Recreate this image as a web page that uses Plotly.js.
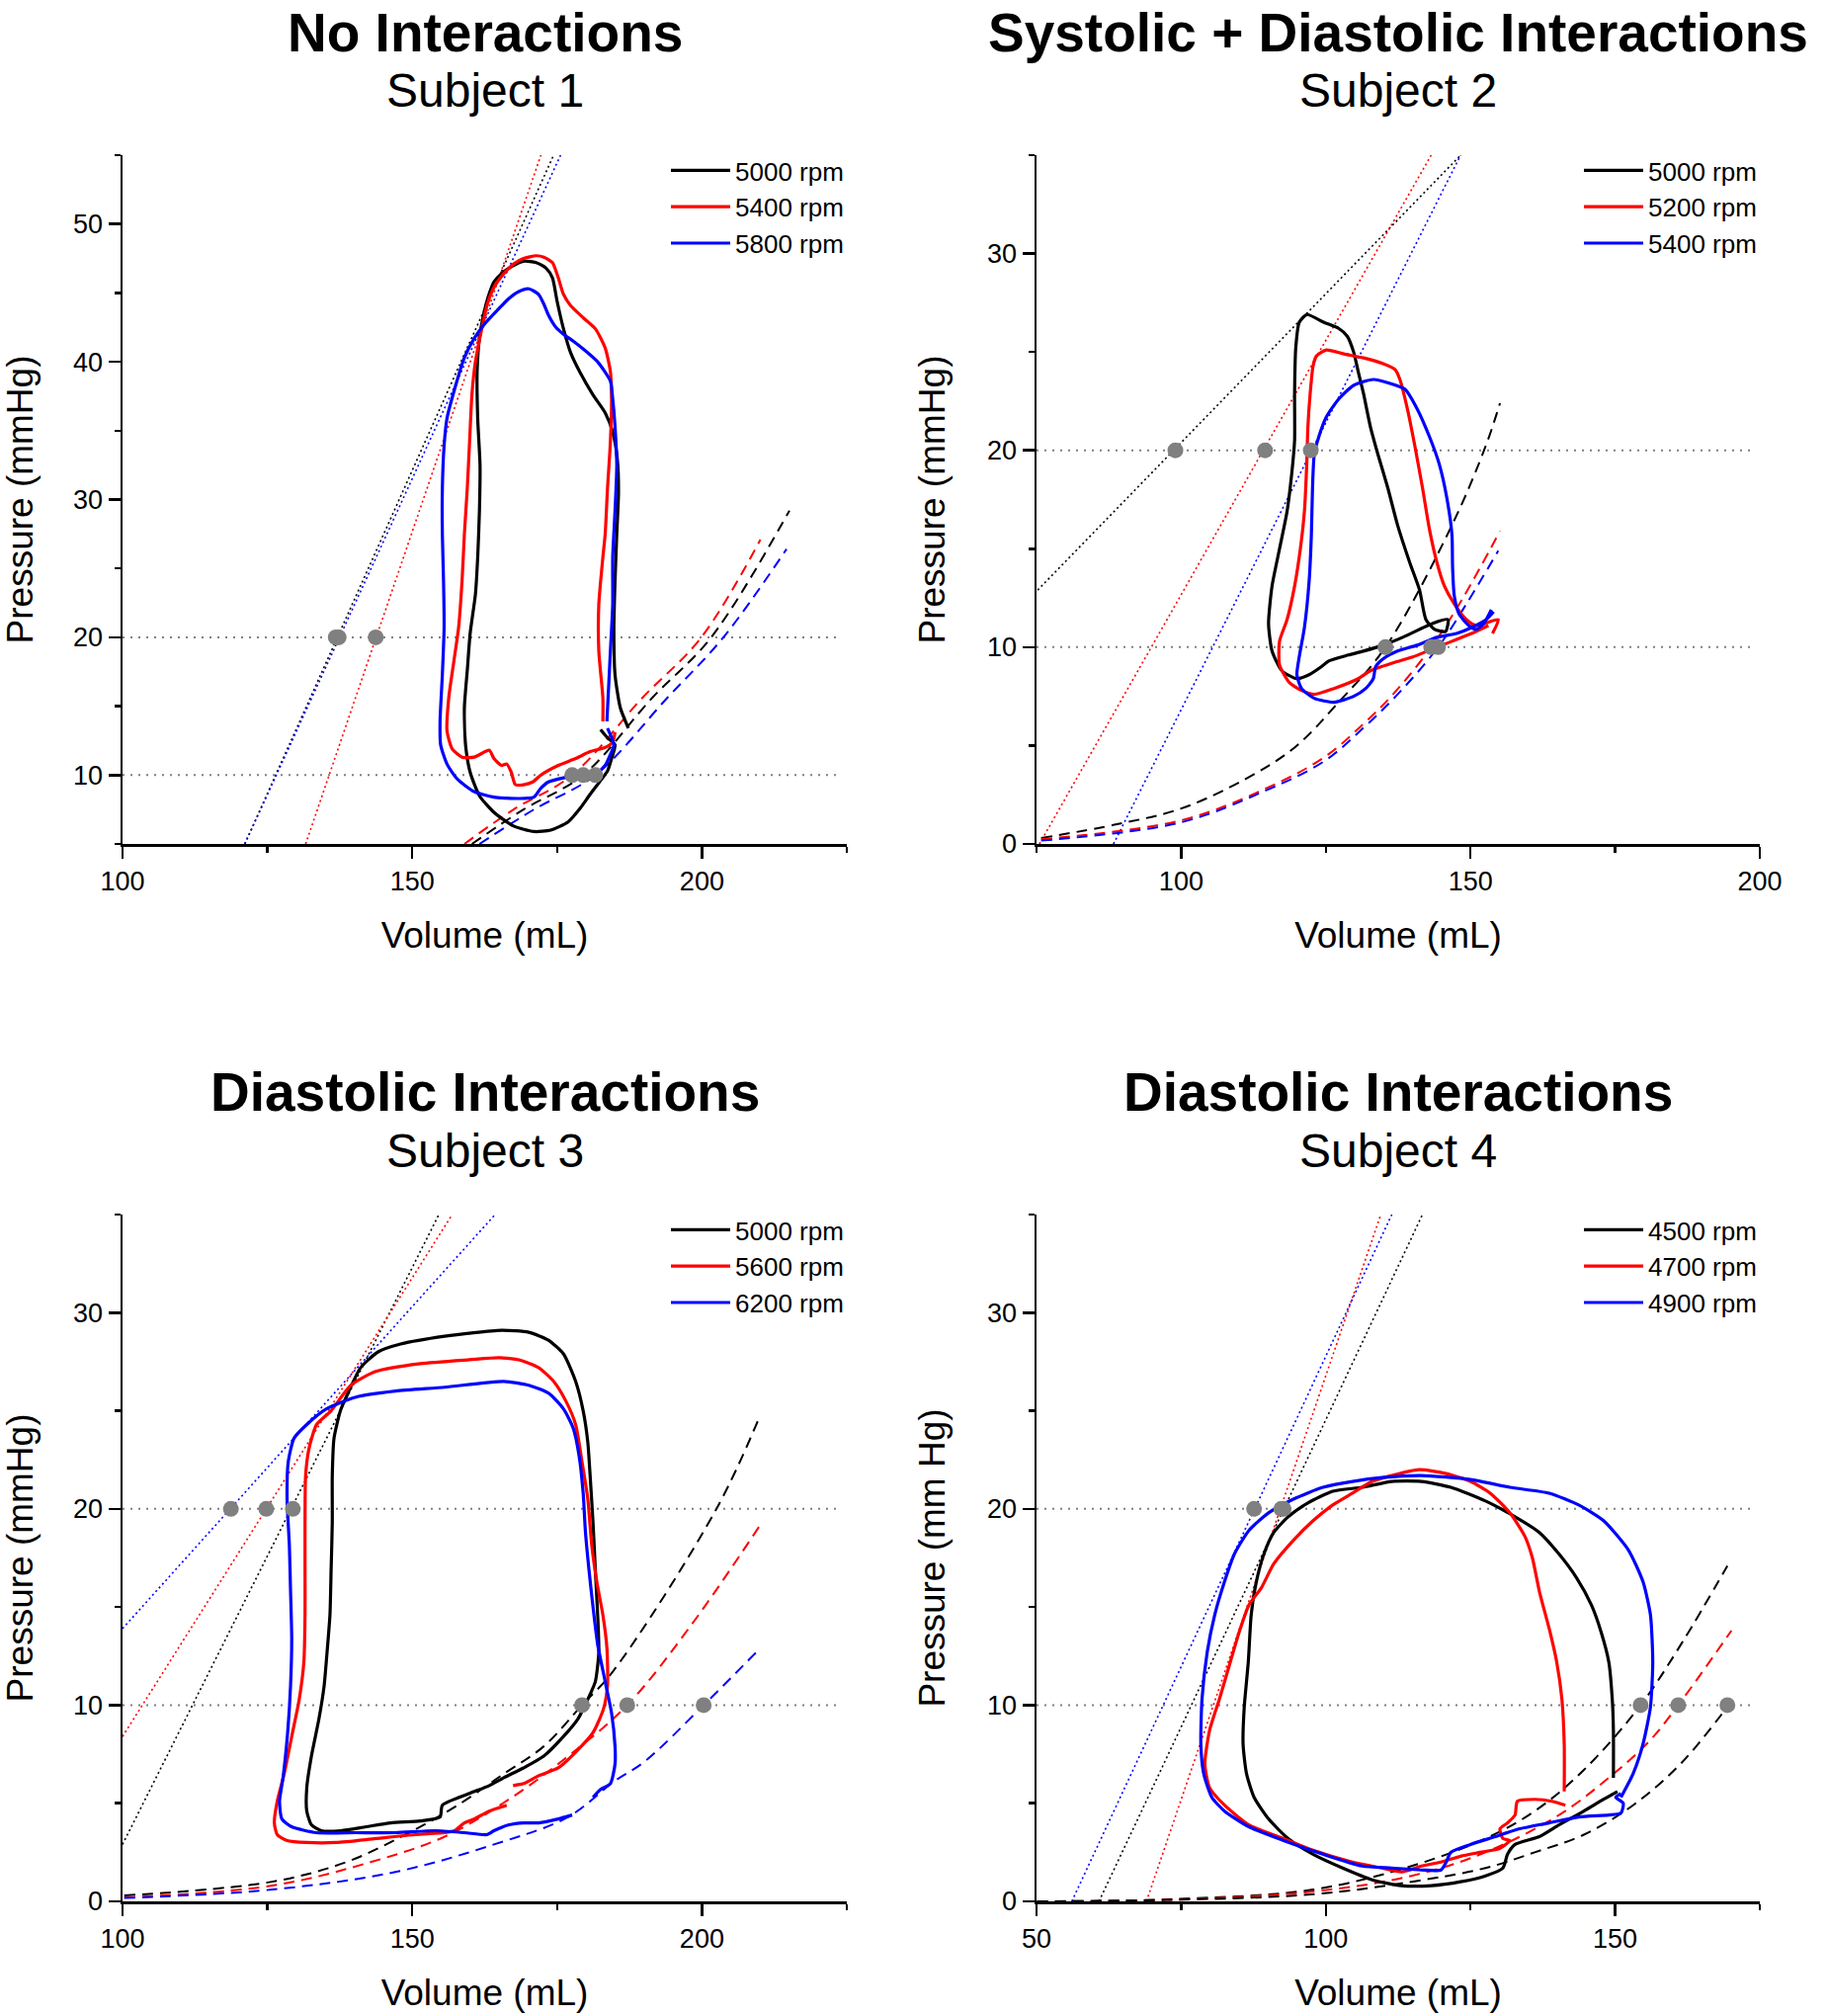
<!DOCTYPE html>
<html><head><meta charset="utf-8">
<script src="https://cdn.plot.ly/plotly-3.0.1.min.js"></script>
<style>html,body{margin:0;padding:0;background:#fff}#chart{width:1849px;height:2040px}</style>
</head><body><div id="chart"></div>
<script>
// ---------- Panel 1 : No Interactions, Subject 1 ----------
const p1_names = ['5000 rpm', '5400 rpm', '5800 rpm'];
const p1_a_V = [187.3,185.9,185.0,184.8,185.0,185.3,185.6,185.4,184.6,183.3,181.2,179.0,177.3,176.1,175.0,174.2,173.1,171.4,169.2,167.1,165.4,164.1,163.1,162.3,161.6,161.2,161.3,161.7,161.6,161.3,160.9,160.0,159.5,159.0,159.2,160.0,161.6,164.1,167.5,171.0,173.9,176.9,179.0,180.7,182.5,183.7,184.4,185.0,183.7,182.5];
const p1_a_P = [13.4,14.9,17.3,20.7,24.1,27.5,30.5,32.9,34.9,36.3,37.6,39.2,40.7,42.4,44.4,46.1,46.8,47.2,47.3,46.9,46.4,45.8,44.7,43.4,41.7,39.3,35.9,32.5,29.2,25.8,23.1,20.3,17.6,14.9,12.2,10.2,8.5,7.3,6.3,5.9,6.0,6.6,7.6,8.6,9.6,10.3,11.2,12.2,12.7,13.3];
const p1_b_V = [182.9,182.9,182.2,182.2,182.9,183.3,183.7,184.2,184.4,184.2,183.3,181.6,179.5,177.3,176.1,175.2,174.2,172.7,171.4,169.2,167.5,165.8,164.1,162.9,161.8,160.9,160.3,159.9,159.5,159.0,158.6,158.0,157.2,156.3,156.0,156.9,158.6,160.7,163.3,164.1,165.4,166.3,167.1,167.8,169.2,170.8,172.2,175.2,178.2,180.7,183.3,184.6,185.0];
const p1_b_P = [13.9,15.6,19.0,22.4,25.8,27.5,30.8,34.2,37.3,39.3,41.0,42.4,43.2,44.1,44.9,46.1,47.2,47.6,47.7,47.5,47.1,46.4,45.4,44.1,42.0,40.0,37.6,34.2,30.8,27.5,24.1,20.7,18.3,15.6,13.2,11.9,11.3,11.3,11.8,11.2,10.7,10.8,10.2,9.3,9.3,9.5,10.0,10.7,11.2,11.7,12.0,12.4,13.1];
const p1_c_V = [183.6,184.2,184.6,184.6,185.0,185.3,185.0,184.6,184.2,182.0,179.9,177.8,176.1,174.8,173.5,172.7,171.8,170.1,168.4,166.7,164.6,162.4,160.7,159.0,157.3,156.0,155.5,155.2,155.2,155.4,155.5,155.2,154.8,154.9,156.0,157.8,160.7,164.1,168.4,171.0,172.1,173.5,176.1,180.3,182.0,183.3,184.2,184.8,183.7];
const p1_c_P = [13.9,19.0,22.4,25.8,29.2,32.5,35.3,37.3,38.6,40.0,40.8,41.5,42.0,42.5,43.4,44.2,44.9,45.3,45.1,44.6,43.7,42.7,41.7,40.3,38.0,35.9,33.9,30.8,27.5,24.1,20.7,17.3,13.9,12.2,10.8,9.7,8.8,8.4,8.3,8.4,9.0,9.5,9.8,10.1,10.2,10.7,11.5,12.2,13.4];
const p1_es_a_V = [121.1, 174.4], p1_es_a_P = [5, 55];
const p1_es_b_V = [131.6, 172.2], p1_es_b_P = [5, 55];
const p1_es_c_V = [121.1, 175.6], p1_es_c_P = [5, 55];
const p1_ed_a_V = [160.3,169.2,179.5,191.4,201.6,215.1], p1_ed_a_P = [5,7.5,10,15.6,20,29.2];
const p1_ed_b_V = [159.0,167.5,177.6,189.7,199.9,210.1], p1_ed_b_P = [5,7.5,10,15.6,20,27.1];
const p1_ed_c_V = [161.6,171.0,181.6,194.0,203.7,214.6], p1_ed_c_P = [5,7.5,10,15.6,20,26.4];
const p1_dots20 = [136.8, 137.3, 143.7];
const p1_dots10 = [177.6, 179.5, 181.6];

// ---------- Panel 2 : Systolic + Diastolic Interactions, Subject 2 ----------
const p2_names = ['5000 rpm', '5200 rpm', '5400 rpm'];
const p2_a_V = [146.1,143.4,138.3,134.9,131.5,128.9,125.5,124.2,122.1,120.0,117.4,115.7,115.1,115.7,117.0,118.3,119.1,119.6,119.6,119.8,120.4,121.7,124.7,127.2,128.7,129.8,130.6,131.5,132.7,134.0,135.7,137.4,139.5,141.2,142.3,143.8,145.7,146.1];
const p2_a_P = [11.4,11.2,10.5,10.1,9.8,9.6,9.3,9.0,8.6,8.4,8.8,9.8,11.2,13.1,15.0,16.9,18.8,20.5,22.9,25.2,26.5,26.9,26.5,26.2,25.8,25.0,24.0,22.9,21.2,19.8,18.1,16.2,14.3,12.9,11.4,10.9,10.8,11.4];
const p2_b_V = [153.1,150.2,146.8,143.4,140.0,136.6,132.7,130.6,126.4,123.0,120.8,118.7,117.0,117.0,118.3,119.6,120.6,121.3,121.7,121.9,122.3,122.8,123.4,125.1,128.1,131.5,134.9,137.0,137.8,139.1,140.4,141.7,142.9,144.2,145.5,147.2,149.3,151.0,154.8,153.8];
const p2_b_P = [11.1,10.7,10.3,9.9,9.5,9.2,8.8,8.4,7.9,7.6,7.8,8.2,9.1,10.3,11.4,13.1,15.0,16.9,19.3,21.2,22.9,24.3,24.8,25.1,24.9,24.7,24.4,24.1,23.6,22.1,20.2,18.1,16.0,14.3,13.1,12.2,11.4,11.1,11.4,10.7];
const p2_c_V = [154.0,152.7,150.2,147.6,144.2,140.8,137.4,134.9,133.6,133.2,131.9,129.8,126.4,123.0,120.8,120.0,120.4,121.3,122.1,122.5,122.7,123.0,123.8,125.1,127.2,129.8,133.2,136.1,138.7,140.8,142.9,144.6,145.9,146.8,146.9,147.2,148.0,149.7,151.0,152.3,153.6];
const p2_c_P = [11.8,11.4,11.0,10.7,10.5,10.1,9.8,9.4,9.0,8.4,7.9,7.5,7.2,7.4,7.9,8.6,9.5,11.0,13.3,15.7,18.1,19.8,20.7,21.7,22.6,23.3,23.6,23.4,23.1,22.1,20.7,19.3,17.6,15.7,14.1,12.6,11.7,11.1,10.9,11.2,11.9];
const p2_es_a_V = [75.2, 148.3], p2_es_a_P = [12.9, 35];
const p2_es_b_V = [75.5, 143.2], p2_es_b_P = [0, 35];
const p2_es_c_V = [88.3, 148.3], p2_es_c_P = [0, 35];
const p2_ed_a_V = [75.8,88.9,100,111.1,119.6,127.2,135.3,146.8,152.6,155.1], p2_ed_a_P = [0.3,1.0,1.8,3.3,4.9,7.2,10.0,16.2,20.2,22.4];
const p2_ed_b_V = [75.8,100,114.5,124.7,131.5,136.6,143.2,148.5,155.1], p2_ed_b_P = [0.24,1.2,2.8,4.4,6.1,7.6,10.0,12.4,15.9];
const p2_ed_c_V = [75.8,100,114.5,124.7,131.5,137.4,144.4,149.3,154.8], p2_ed_c_P = [0.17,1.1,2.7,4.2,5.9,7.6,10.0,12.2,14.9];
const p2_dots20 = [99.0, 114.5, 122.4];
const p2_dots10 = [135.3, 143.2, 144.4];

// ---------- Panel 3 : Diastolic Interactions, Subject 3 ----------
const p3_names = ['5000 rpm', '5600 rpm', '6200 rpm'];
const p3_a_V = [138.6,141.1,144.1,148.0,155.6,165.4,170.1,173.5,176.1,178.2,179.5,180.3,180.7,181.2,181.6,182.0,182.2,181.6,180.3,178.6,176.1,172.7,169.2,165.8,163.3,159.9,155.2,154.8,151.4,146.3,142.0,137.7,134.3,132.6,131.8,131.8,132.6,133.9,134.8,135.3,135.8,136.0,136.2,136.2,136.5,137.6,138.6];
const p3_a_P = [25.7,27.2,28.0,28.4,28.8,29.1,29.0,28.6,27.9,26.5,25.0,23.4,21.7,19.3,16.9,14.6,12.7,11.2,10.3,9.3,8.4,7.4,6.8,6.3,5.9,5.5,4.9,4.3,4.1,4.0,3.8,3.6,3.6,3.9,4.6,5.8,7.4,9.3,11.0,12.7,14.6,16.9,19.3,21.7,23.6,25.0,25.7];
const p3_b_V = [167.4,169.2,171.8,175.2,178.2,181.2,183.0,183.7,183.6,182.9,181.9,181.0,180.3,179.3,178.2,176.5,174.4,171.8,168.4,165.0,159.9,151.4,143.7,139.4,136.0,133.5,132.2,131.6,131.5,131.5,131.5,131.3,130.5,129.2,127.9,126.7,126.2,126.7,128.4,131.8,136.9,143.7,150.5,155.6,157.3,159.0,160.7,163.3,166.3];
const p3_b_P = [5.9,6.0,6.4,6.8,7.6,8.6,9.8,11.0,12.9,14.6,16.2,18.1,20.5,22.4,24.3,25.5,26.5,27.2,27.6,27.7,27.6,27.4,27.0,26.3,25.0,24.3,23.1,21.7,19.3,16.9,14.6,12.2,10.3,8.4,6.5,5.1,4.0,3.4,3.1,3.0,3.0,3.2,3.4,3.5,3.6,4.0,4.2,4.6,4.9];
const p3_c_V = [181.2,182.5,184.2,185.0,185.0,184.4,183.3,182.0,181.2,180.5,179.9,179.5,178.8,177.8,176.1,173.5,170.1,165.8,155.6,147.1,140.3,135.2,131.8,129.6,128.6,128.4,128.8,129.0,129.2,129.0,128.5,127.7,127.1,127.5,129.2,133.5,140.3,147.1,153.9,159.0,162.9,164.1,166.7,169.2,171.8,175.2,177.6];
const p3_c_P = [5.3,5.7,6.0,7.0,7.9,9.6,11.2,13.1,15.0,16.9,18.8,20.8,22.7,24.1,25.1,25.9,26.3,26.5,26.2,26.0,25.7,25.1,24.3,23.6,22.4,20.5,18.1,15.8,13.4,11.0,8.6,6.3,5.1,4.2,3.8,3.5,3.5,3.5,3.6,3.5,3.4,3.6,3.9,4.0,4.0,4.2,4.4];
const p3_es_a_V = [100, 154.6], p3_es_a_P = [2.9, 35];
const p3_es_b_V = [100, 156.9], p3_es_b_P = [8.4, 35];
const p3_es_c_V = [100, 164.3], p3_es_c_P = [13.9, 35];
const p3_ed_a_V = [100.3,125.8,138.6,148.8,157.3,165.8,172.7,179.3,184.6,202.5,210.1], p3_ed_a_P = [0.3,1.0,2.0,3.4,4.8,6.5,7.9,10.0,11.7,20.0,24.8];
const p3_ed_b_V = [100.3,125.8,142.8,155.6,166.7,176.9,187.1,198.2,210.1], p3_ed_b_P = [0.2,0.8,2.0,3.3,5.2,7.4,10.0,14.1,19.2];
const p3_ed_c_V = [100.3,125.8,147.1,164.1,176.9,184.8,190.0,200.3,209.4], p3_ed_c_P = [0.17,0.6,1.5,2.9,4.3,6.1,7.1,10.0,12.7];
const p3_dots20 = [118.7, 124.8, 129.4];
const p3_dots10 = [179.3, 187.1, 200.3];

// ---------- Panel 4 : Diastolic Interactions, Subject 4 ----------
const p4_names = ['4500 rpm', '4700 rpm', '4900 rpm'];
const p4_a_V = [149.7,149.7,149.5,148.9,147.6,145.9,143.3,140.3,136.9,132.7,127.6,121.6,116.5,111.4,106.3,101.2,96.9,93.5,91.0,89.3,88.0,87.1,86.6,85.9,85.7,86.3,87.6,90.1,93.5,97.8,102.9,108.0,113.1,118.2,123.3,127.6,130.6,131.4,132.7,136.9,140.3,144.6,148.0,150.4];
const p4_a_P = [6.3,8.7,10.3,12.2,13.7,15.1,16.5,17.7,18.8,19.6,20.4,21.1,21.4,21.4,21.1,20.9,20.3,19.6,18.8,17.7,16.3,14.6,12.2,9.9,8.0,6.5,5.3,4.2,3.2,2.4,1.7,1.1,0.8,0.8,1.0,1.3,1.7,2.4,2.9,3.3,3.9,4.6,5.2,5.6];
const p4_b_V = [141.2,141.2,140.8,139.9,138.6,136.9,135.7,134.4,131.8,128.4,125.0,120.8,116.1,111.4,108.0,104.6,101.2,97.8,94.4,91.0,88.9,86.7,85.0,83.3,81.6,79.9,79.1,79.9,82.5,86.7,92.7,97.8,104.6,109.7,113.1,116.5,119.9,123.3,126.7,130.1,131.8,130.6,130.1,131.4,132.7,133.1,136.1,139.1,141.4];
const p4_b_P = [5.6,8.0,10.3,12.2,13.9,15.8,17.5,18.6,19.8,20.8,21.4,21.8,22.0,21.7,21.4,20.8,20.2,19.4,18.4,17.2,16.0,15.1,13.7,12.0,10.3,8.7,7.0,5.8,4.9,3.9,3.2,2.6,2.0,1.7,1.5,1.8,2.0,2.3,2.5,2.7,3.1,3.2,3.7,4.0,4.4,5.1,5.2,5.1,4.9];
const p4_c_V = [151.0,153.1,154.8,156.1,156.5,156.1,154.8,152.3,148.0,143.7,138.6,131.8,125.0,116.5,109.7,104.6,99.5,94.4,90.1,86.7,84.2,82.5,80.8,79.5,78.6,78.4,78.9,80.3,82.5,86.7,92.7,99.5,106.3,111.4,116.5,119.9,120.8,121.6,125.0,129.3,133.5,138.6,143.7,148.9,151.0,151.4,150.1,151.0];
const p4_c_P = [5.3,6.5,8.0,9.9,12.2,14.6,16.3,17.9,19.4,20.2,20.8,21.1,21.5,21.7,21.6,21.4,21.1,20.5,19.8,18.9,17.7,16.3,14.6,12.7,10.3,8.0,6.5,5.3,4.6,3.8,3.1,2.4,1.8,1.7,1.6,1.6,2.0,2.5,2.9,3.3,3.7,4.0,4.3,4.4,4.5,5.0,5.3,5.5];
const p4_es_a_V = [60.8, 116.7], p4_es_a_P = [0, 35];
const p4_es_b_V = [69.0, 109.5], p4_es_b_P = [0, 35];
const p4_es_c_V = [56.1, 111.4], p4_es_c_P = [0, 35];
const p4_ed_a_V = [50.1,72.3,97.8,114.8,127.6,136.1,144.6,154.4,161.6,169.4], p4_ed_a_P = [0,0.1,0.6,1.8,3.2,4.6,6.7,10.0,13.2,17.1];
const p4_ed_b_V = [50.1,72.3,97.8,114.8,127.6,140.3,148.9,155.7,160.9,170.1], p4_ed_b_P = [0,0.07,0.5,1.3,2.5,4.4,6.3,8.1,10.0,13.8];
const p4_ed_c_V = [50.1,72.3,97.8,114.8,127.6,136.1,144.6,153.1,161.6,169.6], p4_ed_c_P = [0,0.07,0.36,1.0,1.7,2.5,3.4,4.9,7.1,10.0];
const p4_dots20 = [87.6, 92.3, 92.7];
const p4_dots10 = [154.4, 160.9, 169.4];

// reference pressure levels (dotted grey lines)
const refLevels = [10, 20];

// titles & axis labels
const mainTitles = ['No Interactions', 'Systolic + Diastolic Interactions', 'Diastolic Interactions', 'Diastolic Interactions'];
const subTitles = ['Subject 1', 'Subject 2', 'Subject 3', 'Subject 4'];
const yTitles = ['Pressure (mmHg)', 'Pressure (mmHg)', 'Pressure (mmHg)', 'Pressure (mm Hg)'];
const xTitle = 'Volume (mL)';
const xRanges = [[100, 225], [75, 200], [100, 225], [50, 175]];
const yRanges = [[5, 55], [0, 35], [0, 35], [0, 35]];

// ---------- build ----------
const FONT = 'Liberation Sans, Arial, sans-serif';
const COLORS = ['#000000', '#ff0000', '#0000ff'];
const EDCOLORS = [
  ['#000000', '#ff0000', '#0000ff'],
  ['#000000', '#ff0000', '#0000ff'],
  ['#000000', '#ff0000', '#0000ff'],
  ['#000000', '#ff0000', '#000000']
];
const panels = [
  {names: p1_names, loops: [[p1_a_V,p1_a_P],[p1_b_V,p1_b_P],[p1_c_V,p1_c_P]],
   es: [[p1_es_a_V,p1_es_a_P],[p1_es_b_V,p1_es_b_P],[p1_es_c_V,p1_es_c_P]],
   ed: [[p1_ed_a_V,p1_ed_a_P],[p1_ed_b_V,p1_ed_b_P],[p1_ed_c_V,p1_ed_c_P]],
   d20: p1_dots20, d10: p1_dots10},
  {names: p2_names, loops: [[p2_a_V,p2_a_P],[p2_b_V,p2_b_P],[p2_c_V,p2_c_P]],
   es: [[p2_es_a_V,p2_es_a_P],[p2_es_b_V,p2_es_b_P],[p2_es_c_V,p2_es_c_P]],
   ed: [[p2_ed_a_V,p2_ed_a_P],[p2_ed_b_V,p2_ed_b_P],[p2_ed_c_V,p2_ed_c_P]],
   d20: p2_dots20, d10: p2_dots10},
  {names: p3_names, loops: [[p3_a_V,p3_a_P],[p3_b_V,p3_b_P],[p3_c_V,p3_c_P]],
   es: [[p3_es_a_V,p3_es_a_P],[p3_es_b_V,p3_es_b_P],[p3_es_c_V,p3_es_c_P]],
   ed: [[p3_ed_a_V,p3_ed_a_P],[p3_ed_b_V,p3_ed_b_P],[p3_ed_c_V,p3_ed_c_P]],
   d20: p3_dots20, d10: p3_dots10},
  {names: p4_names, loops: [[p4_a_V,p4_a_P],[p4_b_V,p4_b_P],[p4_c_V,p4_c_P]],
   es: [[p4_es_a_V,p4_es_a_P],[p4_es_b_V,p4_es_b_P],[p4_es_c_V,p4_es_c_P]],
   ed: [[p4_ed_a_V,p4_ed_a_P],[p4_ed_b_V,p4_ed_b_P],[p4_ed_c_V,p4_ed_c_P]],
   d20: p4_dots20, d10: p4_dots10}
];

// layout geometry (pixels of the 1849x2040 page)
const W = 1849, H = 2040;
const colX = [[124, 857], [1049, 1781]];
const rowY = [[157, 854], [1229, 1924]];

const data = [];
const layout = {
  width: W, height: H, margin: {l: 0, r: 0, t: 0, b: 0},
  paper_bgcolor: '#fff', plot_bgcolor: '#fff',
  font: {family: FONT, color: '#000'},
  showlegend: true, annotations: [], shapes: []
};

panels.forEach((p, i) => {
  const n = i + 1;
  const xa = n === 1 ? 'x' : 'x' + n, ya = n === 1 ? 'y' : 'y' + n;
  const xk = n === 1 ? 'xaxis' : 'xaxis' + n, yk = n === 1 ? 'yaxis' : 'yaxis' + n;
  const lg = n === 1 ? 'legend' : 'legend' + n;
  const c = colX[i % 2], r = rowY[Math.floor(i / 2)];
  const xd = [c[0] / W, c[1] / W], yd = [1 - r[1] / H, 1 - r[0] / H];

  const axisCommon = {
    showline: true, linecolor: '#000', linewidth: 2.5, mirror: false,
    ticks: 'outside', ticklen: 12, tickwidth: 2.5, tickcolor: '#000',
    showgrid: false, zeroline: false, fixedrange: true,
    tickfont: {family: FONT, size: 27, color: '#000'}
  };
  layout[xk] = Object.assign({}, axisCommon, {
    domain: xd, anchor: ya, range: xRanges[i], tick0: 0, dtick: 50,
    minor: {ticks: 'outside', ticklen: 6, tickwidth: 2.5, tickcolor: '#000', dtick: 25, showgrid: false},
    title: {text: xTitle, font: {family: FONT, size: 37, color: '#000'}, standoff: 27}
  });
  layout[yk] = Object.assign({}, axisCommon, {
    domain: yd, anchor: xa, range: yRanges[i], tick0: 0, dtick: 10,
    minor: {ticks: 'outside', ticklen: 6, tickwidth: 2.5, tickcolor: '#000', dtick: 5, showgrid: false},
    title: {text: yTitles[i], font: {family: FONT, size: 37, color: '#000'}, standoff: 31}
  });

  // reference dotted lines
  refLevels.forEach(lv => {
    layout.shapes.push({type: 'line', layer: 'below', xref: xa + ' domain', yref: ya,
      x0: 0, x1: 0.99, y0: lv, y1: lv, line: {color: '#808080', width: 2, dash: '2px,6px'}});
  });

  // ESPVR dotted lines
  p.es.forEach((s, k) => data.push({type: 'scatter', mode: 'lines', x: s[0], y: s[1], xaxis: xa, yaxis: ya,
    line: {color: COLORS[k], width: 1.6, dash: '2px,3px'}, showlegend: false, hoverinfo: 'skip'}));
  // EDPVR dashed curves
  p.ed.forEach((s, k) => data.push({type: 'scatter', mode: 'lines', x: s[0], y: s[1], xaxis: xa, yaxis: ya,
    line: {color: EDCOLORS[i][k], width: 2, dash: '11px,7px', shape: 'spline', smoothing: 1}, showlegend: false, hoverinfo: 'skip'}));
  // PV loops
  p.loops.forEach((s, k) => data.push({type: 'scatter', mode: 'lines', x: s[0], y: s[1], xaxis: xa, yaxis: ya,
    name: p.names[k], legend: lg, line: {color: COLORS[k], width: 3.2, shape: 'spline', smoothing: 0.6}}));
  // grey points
  data.push({type: 'scatter', mode: 'markers', x: p.d20.concat(p.d10),
    y: p.d20.map(() => refLevels[1]).concat(p.d10.map(() => refLevels[0])),
    xaxis: xa, yaxis: ya, marker: {color: '#808080', size: 16}, showlegend: false, hoverinfo: 'skip', cliponaxis: false});

  // legend
  layout[lg] = {x: (c[1] + 2) / W, xanchor: 'right', y: 1 - (r[0] - 8) / H, yanchor: 'top',
    xref: 'paper', yref: 'paper', bgcolor: 'rgba(0,0,0,0)', borderwidth: 0,
    font: {family: FONT, size: 26, color: '#000'}, itemwidth: 60, tracegroupgap: 0, traceorder: 'normal'};

  // titles
  const cx = (c[0] + c[1]) / 2 / W;
  layout.annotations.push({xref: 'paper', yref: 'paper', x: cx, y: 1 - (r[0] - 124) / H, xanchor: 'center', yanchor: 'middle',
    text: '<b>' + mainTitles[i] + '</b>', showarrow: false, font: {family: FONT, size: 55, color: '#000'}});
  layout.annotations.push({xref: 'paper', yref: 'paper', x: cx, y: 1 - (r[0] - 65) / H, xanchor: 'center', yanchor: 'middle',
    text: subTitles[i], showarrow: false, font: {family: FONT, size: 48, color: '#000'}});
});

Plotly.newPlot('chart', data, layout, {displayModeBar: false, staticPlot: true});
</script>
</body></html>
